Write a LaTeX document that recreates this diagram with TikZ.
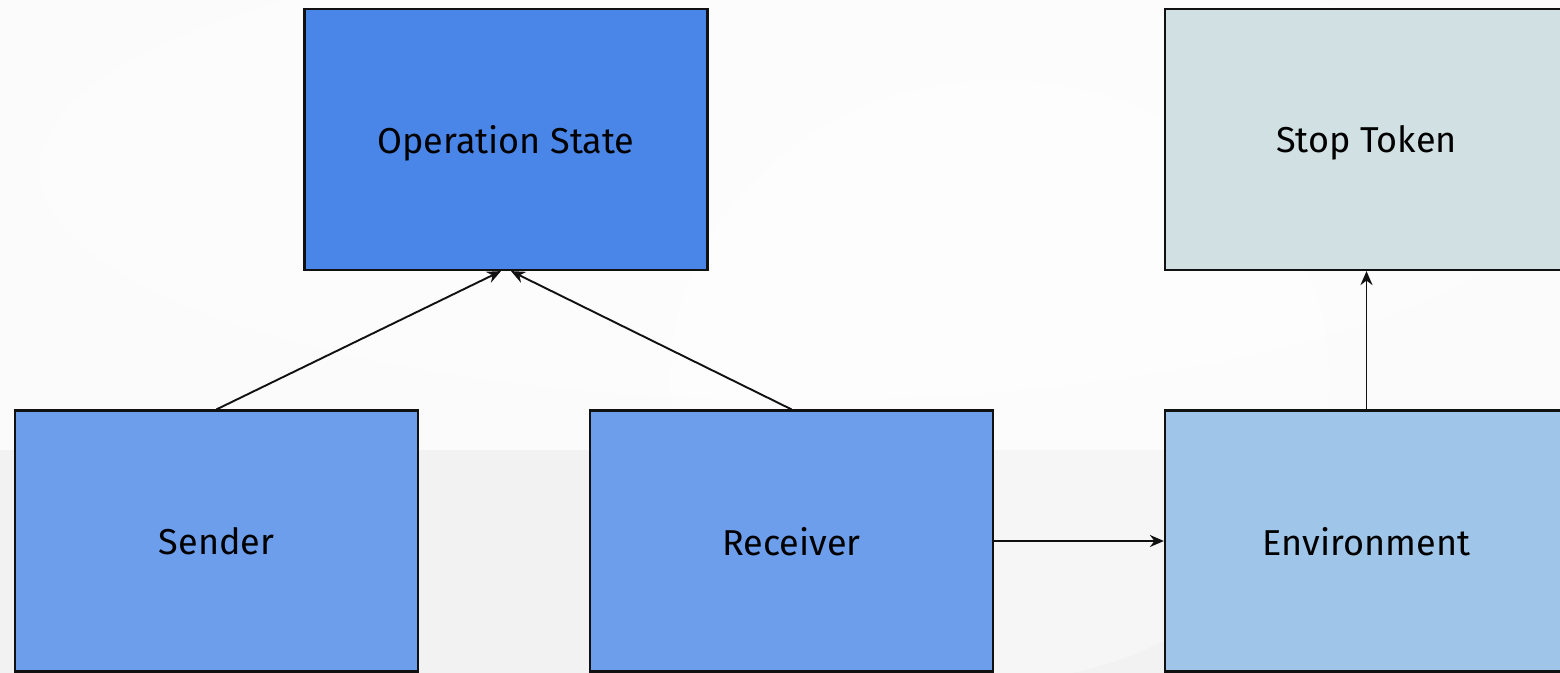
\documentclass[tikz,border=0pt]{standalone}
\usepackage{fontspec}
\setmainfont{Fira Sans}
\usetikzlibrary{arrows.meta,calc}
\definecolor{opblue}{HTML}{4A86E8}
\definecolor{midblue}{HTML}{6D9EEB}
\definecolor{envblue}{HTML}{9FC5E8}
\definecolor{tokgray}{HTML}{D0E0E3}
\definecolor{bgbase}{HTML}{F2F2F2}
\definecolor{edge}{HTML}{111111}
\tikzset{
  block/.style={draw=edge, line width=1.1pt, rectangle, minimum width=201.5pt,
    minimum height=130.5pt, inner sep=0pt, font=\fontsize{18}{20}\selectfont,
    text=black, text depth=0pt},
  link/.style={draw=edge, line width=0.95pt, -{Stealth[length=7pt,width=6pt]}}
}
\begin{document}
\begin{tikzpicture}[x=0.5pt,y=-0.5pt]
  \useasboundingbox (0,0) rectangle (1560,673);
  \clip (0,0) rectangle (1560,673);
  % soft backdrop
  \fill[bgbase] (0,0) rectangle (1560,673);
  \fill[white!70!bgbase] (0,0) rectangle (1560,450);
  \fill[white, opacity=0.45] (800,170) ellipse [x radius=760, y radius=230];
  \fill[white, opacity=0.35] (1000,380) ellipse [x radius=330, y radius=300];

  \node[block, fill=opblue]  (op)   at (506,139.5)  {Operation State};
  \node[block, fill=tokgray] (tok)  at (1366.5,139.5) {Stop Token};
  \node[block, fill=midblue] (snd)  at (216.5,541)  {Sender};
  \node[block, fill=midblue] (rcv)  at (791.5,541)  {Receiver};
  \node[block, fill=envblue] (env)  at (1366.5,541) {Environment};

  \draw[link] (snd.north) -- ([xshift=-2.5pt]op.south);
  \draw[link] (rcv.north) -- ([xshift=2.5pt]op.south);
  \draw[link] (rcv.east) -- (env.west);
  \draw[link] (env.north) -- (tok.south);
\end{tikzpicture}
\end{document}
